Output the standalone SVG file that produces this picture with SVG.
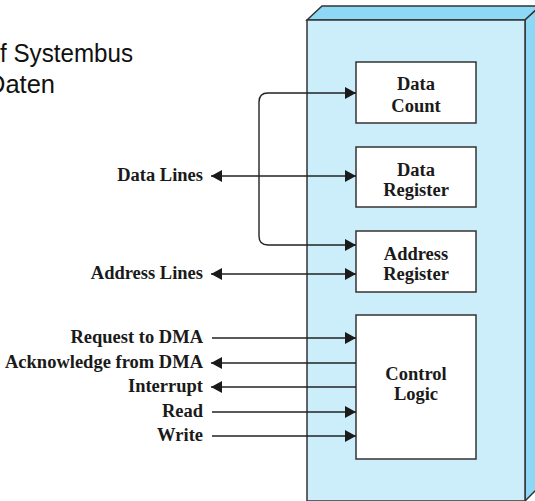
<svg xmlns="http://www.w3.org/2000/svg" width="535" height="501" viewBox="0 0 535 501">
<style>
.hdr{font-family:"Liberation Sans","DejaVu Sans",sans-serif;font-size:25px;fill:#111}
.lbl{font-family:"Liberation Serif","Times New Roman",serif;font-weight:bold;font-size:18.5px;fill:#1a1a1a}
.box{fill:#fff;stroke:#333;stroke-width:1.5}
.ln{fill:none;stroke:#222;stroke-width:1.4}
</style>
<defs>
<marker id="ah" viewBox="0 0 11 12" refX="11" refY="6" markerWidth="11" markerHeight="12" markerUnits="userSpaceOnUse" orient="auto-start-reverse">
<path d="M0,0 L11,6 L0,12 z" fill="#1a1a1a"/>
</marker>
</defs>
<rect width="535" height="501" fill="#fff"/>
<text class="hdr" x="0" y="62" textLength="133" lengthAdjust="spacingAndGlyphs">f Systembus</text>
<text class="hdr" x="-13" y="93" textLength="68" lengthAdjust="spacingAndGlyphs">Daten</text>
<g id="dma-module">
<polygon points="307,20 322,6 540,6 525,20" fill="#8dd8f5" stroke="#333" stroke-width="1.5"/>
<polygon points="525,20 540,6 540,486 525,501" fill="#8dd8f5" stroke="#333" stroke-width="1.5"/>
<rect x="307" y="20" width="218" height="481" fill="#cbeefa" stroke="#333" stroke-width="1.5"/>
</g>
<g id="data-count"><rect class="box" x="356" y="62" width="120" height="61"/>
<text class="lbl" x="416" y="90" text-anchor="middle">Data</text>
<text class="lbl" x="416" y="112" text-anchor="middle">Count</text></g>
<g id="data-register"><rect class="box" x="356" y="147" width="120" height="60"/>
<text class="lbl" x="416" y="176" text-anchor="middle">Data</text>
<text class="lbl" x="416" y="196" text-anchor="middle">Register</text></g>
<g id="address-register"><rect class="box" x="356" y="231" width="120" height="61"/>
<text class="lbl" x="416" y="260" text-anchor="middle">Address</text>
<text class="lbl" x="416" y="280" text-anchor="middle">Register</text></g>
<g id="control-logic"><rect class="box" x="356" y="315" width="120" height="144"/>
<text class="lbl" x="416" y="380" text-anchor="middle">Control</text>
<text class="lbl" x="416" y="400" text-anchor="middle">Logic</text></g>
<g id="labels">
<text class="lbl" x="203" y="181" text-anchor="end">Data Lines</text>
<text class="lbl" x="203" y="279" text-anchor="end">Address Lines</text>
<text class="lbl" x="203" y="343" text-anchor="end">Request to DMA</text>
<text class="lbl" x="203" y="368" text-anchor="end">Acknowledge from DMA</text>
<text class="lbl" x="203" y="392" text-anchor="end">Interrupt</text>
<text class="lbl" x="203" y="417" text-anchor="end">Read</text>
<text class="lbl" x="203" y="441" text-anchor="end">Write</text>
</g>
<g id="connectors">
<path class="ln" d="M356,93 H268 Q259,93 259,102 V236 Q259,245 268,245 H356" marker-start="url(#ah)" marker-end="url(#ah)"/>
<line class="ln" x1="211" y1="176" x2="356" y2="176" marker-start="url(#ah)" marker-end="url(#ah)"/>
<line class="ln" x1="211" y1="274" x2="356" y2="274" marker-start="url(#ah)" marker-end="url(#ah)"/>
<line class="ln" x1="212" y1="338" x2="356" y2="338" marker-end="url(#ah)"/>
<line class="ln" x1="211" y1="363" x2="356" y2="363" marker-start="url(#ah)"/>
<line class="ln" x1="211" y1="387" x2="356" y2="387" marker-start="url(#ah)"/>
<line class="ln" x1="212" y1="412" x2="356" y2="412" marker-end="url(#ah)"/>
<line class="ln" x1="212" y1="436" x2="356" y2="436" marker-end="url(#ah)"/>
</g>
</svg>
